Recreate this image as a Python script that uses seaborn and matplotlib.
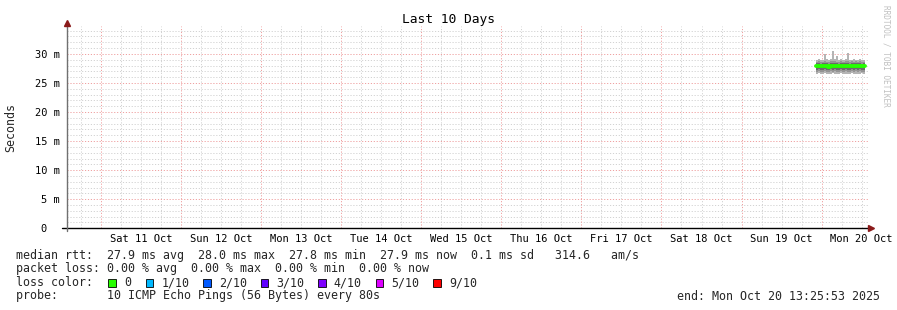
import numpy as np
import pandas as pd
import matplotlib
matplotlib.use("Agg")
import matplotlib.pyplot as plt
import matplotlib.dates as mdates
from matplotlib.patches import Rectangle
import seaborn as sns

# ---------------- data ----------------
title = "Last 10 Days"
y_label = "Seconds"
start_time = "2025-10-10 13:53:00"
end_time = "2025-10-20 13:53:00"
y_ticks_ms = [0, 5, 10, 15, 20, 25, 30]
y_tick_labels = ["0  ", "5 m", "10 m", "15 m", "20 m", "25 m", "30 m"]
x_label_days = ["2025-10-11", "2025-10-12", "2025-10-13", "2025-10-14", "2025-10-15",
                "2025-10-16", "2025-10-17", "2025-10-18", "2025-10-19", "2025-10-20"]
x_tick_labels = ["Sat 11 Oct", "Sun 12 Oct", "Mon 13 Oct", "Tue 14 Oct", "Wed 15 Oct",
                 "Thu 16 Oct", "Fri 17 Oct", "Sat 18 Oct", "Sun 19 Oct", "Mon 20 Oct"]

bin_start = "2025-10-19 22:13"
bin_minutes = 37
median_ms = [27.85, 27.9, 27.85, 27.9, 27.95, 27.9, 27.8, 27.9, 27.9, 27.95, 27.9, 27.85,
             27.9, 27.9, 28.0, 27.9, 27.85, 27.9, 27.9, 27.95, 27.9, 27.9, 27.85, 27.9]
ping_1 = [26.6, 26.7, 26.5, 26.6, 26.7, 26.6, 26.5, 26.6, 26.7, 26.6, 26.5, 26.6,
          26.7, 26.6, 26.6, 26.5, 26.6, 26.7, 26.6, 26.6, 26.5, 26.6, 26.7, 26.6]
ping_2 = [26.95, 27.0, 26.9, 26.95, 27.05, 26.95, 26.85, 27.0, 26.95, 27.05, 26.95, 26.9,
          27.0, 26.95, 27.05, 26.95, 26.9, 27.0, 26.95, 27.05, 26.95, 27.0, 26.9, 26.95]
ping_3 = [27.3, 27.35, 27.25, 27.3, 27.4, 27.3, 27.2, 27.35, 27.3, 27.4, 27.3, 27.25,
          27.35, 27.3, 27.4, 27.3, 27.25, 27.35, 27.3, 27.4, 27.3, 27.35, 27.25, 27.3]
ping_4 = [27.55, 27.6, 27.5, 27.55, 27.65, 27.55, 27.45, 27.6, 27.55, 27.65, 27.55, 27.5,
          27.6, 27.55, 27.65, 27.55, 27.5, 27.6, 27.55, 27.65, 27.55, 27.6, 27.5, 27.55]
ping_7 = [28.15, 28.2, 28.1, 28.15, 28.25, 28.15, 28.1, 28.2, 28.15, 28.25, 28.15, 28.1,
          28.2, 28.15, 28.3, 28.15, 28.1, 28.2, 28.15, 28.25, 28.15, 28.2, 28.1, 28.15]
ping_8 = [28.35, 28.4, 28.3, 28.35, 28.45, 28.35, 28.3, 28.45, 28.4, 28.45, 28.35, 28.3,
          28.4, 28.35, 28.5, 28.4, 28.3, 28.4, 28.35, 28.45, 28.35, 28.4, 28.3, 28.35]
ping_9 = [28.65, 28.7, 28.6, 28.65, 28.85, 28.65, 28.6, 28.75, 28.85, 28.8, 28.65, 28.6,
          28.7, 28.65, 28.8, 28.85, 28.6, 28.7, 28.65, 28.75, 28.65, 28.7, 28.6, 28.65]
ping_10 = [29.0, 29.1, 28.9, 29.0, 29.9, 29.1, 29.0, 29.1, 30.5, 29.2, 29.7, 29.0,
           29.1, 29.0, 29.2, 30.2, 28.9, 29.0, 29.1, 29.0, 28.9, 29.2, 29.0, 29.0]

legend_row1 = "median rtt:  27.9 ms avg  28.0 ms max  27.8 ms min  27.9 ms now  0.1 ms sd   314.6   am/s"
legend_row2 = "packet loss: 0.00 % avg  0.00 % max  0.00 % min  0.00 % now"
legend_row3_label = "loss color:"
loss_labels = ["0", "1/10", "2/10", "3/10", "4/10", "5/10", "9/10"]
loss_colors = ["#26ff00", "#00b8ff", "#0059ff", "#5e00ff", "#7e00ff", "#dd00ff", "#ff0000"]
legend_row4 = "probe:       10 ICMP Echo Pings (56 Bytes) every 80s"
end_text = "end: Mon Oct 20 13:25:53 2025"
watermark = "RRDTOOL / TOBI OETIKER"

# ---------------- figure ----------------
sns.set_theme(style="white")
plt.rcParams["font.family"] = ["DejaVu Sans Mono"]

W, H = 897, 310
fig = plt.figure(figsize=(W / 100, H / 100), dpi=100)
fig.patch.set_facecolor("white")

ax_left, ax_right, ax_top, ax_bottom = 67, 868, 26, 228.3
ax = fig.add_axes([ax_left / W, 1 - ax_bottom / H, (ax_right - ax_left) / W, (ax_bottom - ax_top) / H])
ax.set_facecolor("white")

n = len(median_ms)
edges = pd.date_range(bin_start, periods=n + 1, freq=f"{bin_minutes}min")

def stepped(vals):
    return list(vals) + [vals[-1]]

df = pd.DataFrame({"time": edges, "median": stepped(median_ms)})

smoke_pairs = [(ping_1, ping_10, "#b4b4b4"), (ping_2, ping_9, "#949494"),
               (ping_3, ping_8, "#6a6a6a"), (ping_4, ping_7, "#383838")]
for lo, hi, col in smoke_pairs:
    ax.fill_between(edges, stepped(lo), stepped(hi), step="post", color=col, lw=0, zorder=3)

sns.lineplot(data=df, x="time", y="median", ax=ax, color="#26ff00", lw=2.8,
             drawstyle="steps-post", zorder=5)

ax.set_xlim(pd.Timestamp(start_time), pd.Timestamp(end_time))
ax.set_ylim(0, 34.8)

# grid
grid_minor = dict(color="#d2d2d2", lw=0.7, ls=(0, (1.2, 1.8)))
grid_major = dict(color="#efa0a0", lw=0.7, ls=(0, (1.2, 1.8)))
ax.set_yticks(y_ticks_ms)
ax.set_yticklabels(y_tick_labels)
ax.set_yticks([v for v in range(0, 35) if v % 5 != 0], minor=True)
ax.xaxis.set_minor_locator(mdates.HourLocator(byhour=[6, 12, 18]))
ax.xaxis.remove_overlapping_locs = False
ax.set_xticks([pd.Timestamp(d) + pd.Timedelta(hours=12) for d in x_label_days])
ax.set_xticklabels(x_tick_labels)
ax.grid(False)
ax.grid(which="minor", axis="both", **grid_minor, zorder=0)
ax.grid(which="major", axis="y", **grid_major, zorder=1)
for d in x_label_days:
    ax.axvline(pd.Timestamp(d), **grid_major, zorder=1)
ax.set_axisbelow(True)

ax.tick_params(axis="both", which="both", length=0)
ax.tick_params(axis="y", which="major", labelsize=7.5, pad=5, colors="black")
ax.tick_params(axis="x", which="major", labelsize=7.5, pad=4, colors="black")
ax.set_xlabel("")
ax.set_ylabel("")

for s in ["top", "right", "left", "bottom"]:
    ax.spines[s].set_visible(False)

# axes lines and arrows
ax.plot([-5 / 801, 1.0 + 2 / 801], [0, 0], transform=ax.transAxes, color="black",
        lw=1.0, clip_on=False, zorder=6)
ax.plot([0, 0], [-3 / 202, 1.0 + 2 / 202], transform=ax.transAxes, color="#707070",
        lw=1.0, clip_on=False, zorder=6)
ax.plot([0], [1.0 + 3 / 202], transform=ax.transAxes, marker="^", ms=4.5,
        color="#8b1a1a", clip_on=False, zorder=7)
ax.plot([1.0 + 3 / 801], [0], transform=ax.transAxes, marker=">", ms=4.5,
        color="#8b1a1a", clip_on=False, zorder=7)

def fx(px):
    return px / W

def fy(py):
    return 1 - py / H

fig.text(fx(448), fy(19), title, ha="center", va="center", fontsize=9.3, color="black")
fig.text(fx(11), fy(127), y_label, ha="center", va="center", rotation=90, fontsize=8.4)
fig.text(fx(886), fy(5), watermark, ha="center", va="top", rotation=270,
         fontsize=5.6, color="#c0c0c0")

lfs = 8.4
fig.text(fx(16), fy(255), legend_row1, ha="left", va="center", fontsize=lfs)
fig.text(fx(16), fy(268.5), legend_row2, ha="left", va="center", fontsize=lfs)
fig.text(fx(16), fy(282.5), legend_row3_label, ha="left", va="center", fontsize=lfs)
fig.text(fx(16), fy(296), legend_row4, ha="left", va="center", fontsize=lfs)
fig.text(fx(880), fy(296), end_text, ha="right", va="center", fontsize=lfs)

sq_x = [108.3, 145.7, 203.3, 260.7, 318.3, 375.7, 433.3]
for x0, lab, col in zip(sq_x, loss_labels, loss_colors):
    fig.patches.append(Rectangle((fx(x0), fy(286.5)), 7.5 / W, 8 / H, transform=fig.transFigure,
                                 facecolor=col, edgecolor="black", lw=0.6))
    fig.text(fx(x0 + 15.5), fy(282.5), lab, ha="left", va="center", fontsize=lfs)

fig.savefig("out.png", dpi=100, facecolor="white")
